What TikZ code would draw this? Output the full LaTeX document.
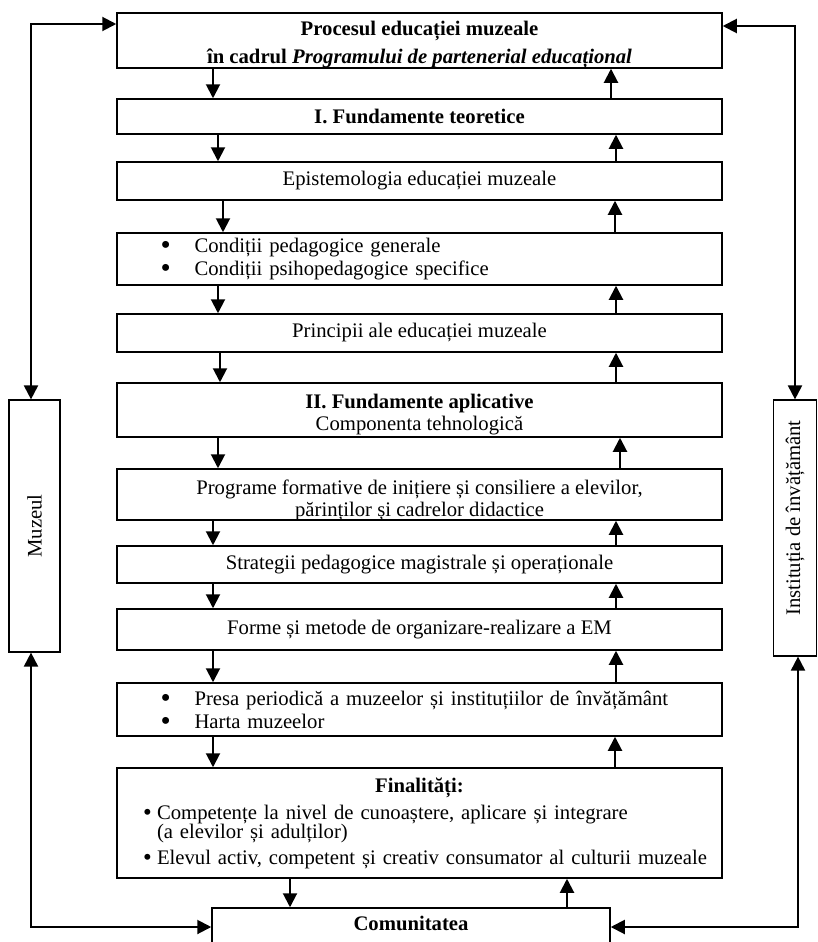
\documentclass[tikz,border=0pt]{standalone}
\usepackage{fontspec}
\setmainfont{Liberation Serif}
\usepackage{graphicx}
\usetikzlibrary{arrows.meta}
\newcommand\dlink[3]{\path (#3,0) coordinate (tmpx); \draw[arr] (#1.south -| tmpx) -- (#2.north -| tmpx);}
\newcommand\ulink[3]{\path (#3,0) coordinate (tmpx); \draw[arr] (#1.north -| tmpx) -- (#2.south -| tmpx);}
\newcommand\bigbul[2]{\hspace*{#1}\makebox[#2][l]{\raisebox{-2pt}[0.4em][0pt]{\scalebox{1.4}{\textbullet}}}}
\newcommand\smbul[2]{\hspace*{#1}\makebox[#2][l]{\raisebox{-1pt}{\scalebox{1.2}{\textbullet}}}}
\begin{document}
\begin{tikzpicture}[x=1pt,y=-1pt,
 txt/.style={font=\fontsize{20.7}{23}\selectfont},
 box/.style={draw,line width=1.5pt,minimum width=605pt,inner sep=0pt,align=center,txt},
 inbox/.style={inner sep=0pt,align=center,txt},
 side/.style={draw,line width=1.2pt,inner sep=0pt,txt},
 arr/.style={line width=2pt,-{Triangle[width=14pt,length=14pt]}},
 barr/.style={line width=2pt,{Triangle[width=14pt,length=14pt]}-{Triangle[width=14pt,length=14pt]}}]
\fill[white] (0,0) rectangle (818,942);
\clip (0,0) rectangle (818,942);

\node[box,minimum height=55pt] (top) at (419.5,40.5) {};
\node[inbox,font=\fontsize{20.7}{23}\selectfont\bfseries] (toptxt) at (419.5,44.5)
 {Procesul educației muzeale\\[5pt] în cadrul \textit{Programului de partenerial educațional}};
\node[box,minimum height=35pt,font=\fontsize{20.7}{23}\selectfont\bfseries] (fund) at (419.5,116.5) {I. Fundamente teoretice};
\node[box,minimum height=38pt] (epist) at (419.5,181) {Epistemologia educației muzeale};
\node[box,minimum height=52pt,text width=560pt,align=left] (cond) at (419.5,259)
 {\bigbul{21pt}{34pt}Condiții pedagogice generale\\ \bigbul{21pt}{34pt}Condiții psihopedagogice specifice};
\node[box,minimum height=38pt] (princ) at (419.5,333) {Principii ale educației muzeale};
\node[box,minimum height=54pt] (fund2) at (419.5,410) {};
\node[inbox] (fund2txt) at (419.5,415) {\textbf{II. Fundamente aplicative}\\[-1pt] Componenta tehnologică};
\node[box,minimum height=51pt] (prog) at (419.5,494.5) {};
\node[inbox] (progtxt) at (419.5,500.5) {Programe formative de inițiere și consiliere a elevilor,\\[-1pt] părinților și cadrelor didactice};
\node[box,minimum height=37pt] (strat) at (419.5,564.5) {Strategii pedagogice magistrale și operaționale};
\node[box,minimum height=41pt] (forme) at (419.5,629.5) {Forme și metode de organizare-realizare a EM};
\node[box,minimum height=53pt,text width=560pt,align=left] (presa) at (419.5,709.5)
 {\bigbul{21pt}{34pt}Presa periodică a muzeelor și instituțiilor de învățământ\\ \bigbul{21pt}{34pt}Harta muzeelor};
\node[box,minimum height=110pt,text width=600pt,align=left] (fin) at (419.5,823)
 {\makebox[\linewidth]{\bfseries Finalități:}\\[4pt]
  \smbul{23.5pt}{14pt}Competențe la nivel de cunoaștere, aplicare și integrare\\[-4pt]
  \hspace*{37.5pt}(a elevilor și adulților)\\[3pt]
  \smbul{23.5pt}{14pt}\mbox{Elevul activ, competent și creativ consumator al culturii muzeale}};
\node[box,minimum width=398pt,minimum height=38pt,font=\fontsize{20.7}{23}\selectfont\bfseries] (com) at (411,927)
 {\raisebox{4pt}[\height][\depth]{Comunitatea}};

\node[side,minimum width=51pt,minimum height=252pt] (muz) at (34.5,526) {\rotatebox{90}{Muzeul}};
\node[side,minimum width=43.5pt,minimum height=256pt] (inst) at (795,528) {\rotatebox{90}{\hspace*{20pt}Instituția de învățământ}};

\coordinate (cTL) at (31,24);
\coordinate (cBL) at (31,927);
\coordinate (cTR) at (795,26);
\coordinate (cBR) at (798,927);
\draw[barr] (top.west |- cTL) -- (cTL) -- (muz.north -| cTL);
\draw[barr] (muz.south -| cBL) -- (cBL) -- (com.west |- cBL);
\draw[barr] (top.east |- cTR) -- (cTR) -- (inst.north -| cTR);
\draw[barr] (inst.south -| cBR) -- (cBR) -- (com.east |- cBR);

\dlink{top}{fund}{213}
\dlink{fund}{epist}{218}
\dlink{epist}{cond}{223}
\dlink{cond}{princ}{218}
\dlink{princ}{fund2}{220}
\dlink{fund2}{prog}{218}
\dlink{prog}{strat}{213}
\dlink{strat}{forme}{213}
\dlink{forme}{presa}{213}
\dlink{presa}{fin}{213}
\dlink{fin}{com}{290}

\ulink{fund}{top}{611}
\ulink{epist}{fund}{616}
\ulink{cond}{epist}{615}
\ulink{princ}{cond}{616}
\ulink{fund2}{princ}{616}
\ulink{prog}{fund2}{620}
\ulink{strat}{prog}{616}
\ulink{forme}{strat}{616}
\ulink{presa}{forme}{616}
\ulink{fin}{presa}{615}
\ulink{com}{fin}{567}
\end{tikzpicture}
\end{document}
